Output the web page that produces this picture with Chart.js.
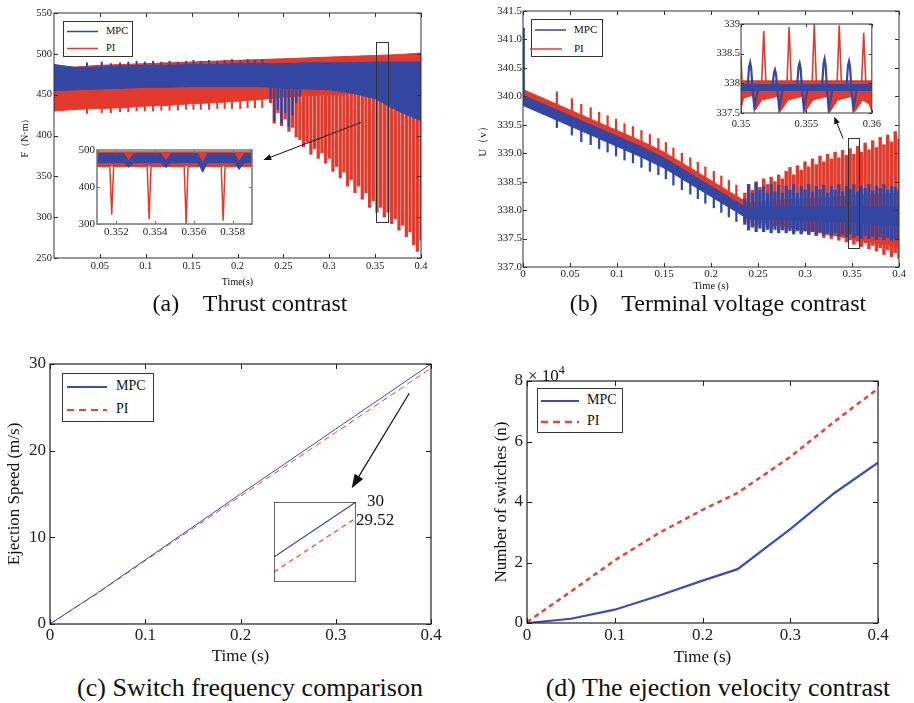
<!DOCTYPE html>
<html>
<head>
<meta charset="utf-8">
<script src="https://cdn.jsdelivr.net/npm/chart.js@4.4.1/dist/chart.umd.min.js"></script>
<style>
  body { margin: 0; background: #fff; }
  #page { position: relative; width: 914px; height: 703px; overflow: hidden;
          font-family: 'Liberation Serif', 'Times New Roman', serif; color: #111; }
  canvas, .legend, .cap, .note { position: absolute; }
  .legend { border: 1px solid #333; background: #fff; box-sizing: border-box; }
  .legend svg { position: absolute; left: 0; top: 0; overflow: visible; }
  .legend span { position: absolute; white-space: nowrap; }
  .cap { width: 440px; text-align: center; white-space: pre; }
  .note { white-space: nowrap; }
</style>
</head>
<body>
<div id="page">
  <canvas id="thrust" width="440" height="300" style="left:0;top:0"></canvas>
  <canvas id="thrustZoom" width="200" height="100" style="left:60px;top:140px"></canvas>
  <canvas id="volt" width="452" height="300" style="left:462px;top:0"></canvas>
  <canvas id="voltZoom" width="186" height="120" style="left:700px;top:14px"></canvas>
  <canvas id="speed" width="450" height="330" style="left:0;top:340px"></canvas>
  <canvas id="speedZoom" width="82" height="80" style="left:274px;top:502px"></canvas>
  <canvas id="switches" width="452" height="330" style="left:462px;top:340px"></canvas>
</div>
<script>
const SERIF = "'Liberation Serif', 'Times New Roman', serif";
Chart.defaults.font.family = SERIF;
Chart.defaults.color = '#222';

const BLUE = '#3447a3';
const RED = '#e23a2c';
const LBLUE = '#3a4db8';
const LRED = '#e8423a';

// ---- (a) thrust: envelopes of the switching ripple band
const thrustT     = [0, 0.025, 0.05, 0.075, 0.1, 0.125, 0.15, 0.175, 0.2, 0.225, 0.25, 0.275, 0.3, 0.325, 0.35, 0.375, 0.4];
const thrustPiHi  = [483, 484, 486, 487, 488, 489, 490, 491, 492, 493, 494, 495, 496, 497, 498, 499, 501];
const thrustPiLo  = [430, 432, 433, 434, 436, 437, 439, 440, 442, 444, 447, 449, 450, 451, 451, 450, 450];
const thrustMpcHi = [487, 483, 484, 485, 486, 486, 487, 487, 488, 488, 488, 489, 489, 489, 490, 490, 490];
const thrustMpcLo = [455, 456, 457, 458, 459, 459, 460, 460, 460, 460, 458, 457, 456, 452, 445, 430, 418];

// periodic disturbance pulses (same instants in (a) and (b))
const pulseT = [0.036, 0.052, 0.062, 0.072, 0.081, 0.090, 0.099, 0.108, 0.117, 0.126, 0.135,
                0.144, 0.152, 0.160, 0.169, 0.178, 0.186, 0.194, 0.203, 0.211, 0.219, 0.227];
const thrustPulseMpc = [489, 490, 488, 489, 490, 491, 490, 491, 490, 491, 490, 491, 492, 491, 492, 491, 492, 493, 492, 493, 492, 493];
const thrustPulsePi  = [427, 428, 428, 429, 429, 430, 430, 430, 431, 431, 431, 432, 432, 432, 432, 433, 433, 433, 433, 434, 434, 434];
const thrustPulseBase = [482, 445];

// late stage: deep PI spikes
const stripeT = [0.236, 0.240, 0.244, 0.248, 0.252, 0.256, 0.260, 0.264, 0.268, 0.272, 0.276, 0.280, 0.284, 0.288,
                 0.292, 0.296, 0.300, 0.304, 0.308, 0.312, 0.316, 0.320, 0.324, 0.328, 0.332, 0.336, 0.340, 0.344,
                 0.348, 0.352, 0.356, 0.360, 0.364, 0.368, 0.372, 0.376, 0.380, 0.384, 0.388, 0.392, 0.396, 0.400];
const thrustStripePi = [440, 415, 428, 412, 420, 405, 410, 398, 395, 386, 392, 377, 384, 372,
                        379, 366, 372, 356, 362, 348, 355, 338, 346, 330, 338, 322, 330, 312,
                        320, 306, 312, 300, 306, 292, 298, 284, 290, 276, 282, 266, 258, 272];
const thrustStripeBase = 452;
const thrustDipT   = [0.236, 0.240, 0.244, 0.248, 0.252, 0.256, 0.260, 0.264, 0.268];
const thrustDipMpc = [445, 418, 432, 415, 428, 411, 425, 440, 448];
const thrustDipBase = 460;
const thrustXTicks = [0.05, 0.1, 0.15, 0.2, 0.25, 0.3, 0.35, 0.4];
const thrustYTicks = [250, 300, 350, 400, 450, 500, 550];

// (a) zoom 0.351-0.359 s
const zoomAT     = [0.351, 0.3524, 0.35262, 0.3529, 0.3543, 0.35456, 0.3548, 0.3562, 0.35646, 0.3567, 0.3581, 0.35833, 0.3586, 0.359];
const zoomAMpcHi = [490, 490, 470, 490, 490, 470, 490, 490, 465, 490, 490, 468, 490, 490];
const zoomAMpcLo = [466, 466, 453, 466, 466, 452, 466, 466, 440, 466, 466, 447, 466, 466];
const zoomAPiBand = [456, 495];
const zoomAPiT = [0.351, 0.35166, 0.35176, 0.35186, 0.35359, 0.35369, 0.35379, 0.3555, 0.3556, 0.3557, 0.35741, 0.35751, 0.35761, 0.359];
const zoomAPiF = [456, 456, 325, 456, 456, 313, 456, 456, 300, 456, 456, 309, 456, 456];
const zoomAXTicks = [0.352, 0.354, 0.356, 0.358];
const zoomAYTicks = [300, 400, 500];

// ---- (b) terminal voltage
const voltT     = [0, 0.025, 0.05, 0.075, 0.1, 0.125, 0.15, 0.175, 0.2, 0.225, 0.24, 0.25, 0.275, 0.3, 0.325, 0.35, 0.375, 0.4];
const voltMpcHi = [340.02, 339.84, 339.66, 339.48, 339.30, 339.12, 338.92, 338.67, 338.42, 338.17, 338.02, 338.05, 338.05, 338.05, 338.05, 338.05, 338.05, 338.05];
const voltMpcLo = [339.84, 339.66, 339.48, 339.30, 339.12, 338.94, 338.74, 338.49, 338.24, 337.99, 337.84, 337.84, 337.83, 337.82, 337.80, 337.78, 337.75, 337.72];
const voltPiHi  = [340.12, 339.94, 339.76, 339.58, 339.40, 339.22, 339.02, 338.77, 338.52, 338.27, 338.12, 338.15, 338.18, 338.20, 338.22, 338.25, 338.28, 338.30];
const voltPiLo  = [339.89, 339.71, 339.53, 339.35, 339.17, 338.99, 338.79, 338.54, 338.29, 338.04, 337.89, 337.80, 337.72, 337.65, 337.58, 337.50, 337.42, 337.35];
const voltPulseMid = [339.71, 339.60, 339.52, 339.45, 339.39, 339.32, 339.26, 339.19, 339.13, 339.06, 338.99,
                      338.92, 338.85, 338.75, 338.66, 338.58, 338.50, 338.43, 338.34, 338.26, 338.18, 338.10];
const voltPulseTop = [340.08, 339.96, 339.86, 339.80, 339.72, 339.66, 339.60, 339.52, 339.47, 339.40, 339.33,
                      339.26, 339.19, 339.09, 339.00, 338.92, 338.84, 338.76, 338.68, 338.60, 338.52, 338.44];
const voltPulseBottom = [339.45, 339.32, 339.20, 339.15, 339.08, 339.02, 338.95, 338.88, 338.83, 338.75, 338.68,
                         338.62, 338.55, 338.44, 338.36, 338.28, 338.20, 338.12, 338.04, 337.96, 337.88, 337.80];
const voltStartT = [0.0008];
const voltStartSpike = [339.9, 341.2];
const voltStripePiHi = [338.30, 338.45, 338.35, 338.50, 338.40, 338.55, 338.45, 338.58, 338.50, 338.62, 338.55, 338.68, 338.75, 338.62,
                        338.78, 338.70, 338.85, 338.76, 338.90, 338.80, 338.95, 338.85, 338.98, 338.90, 339.02, 338.92, 339.05, 338.96,
                        339.08, 338.98, 339.12, 339.02, 339.18, 339.06, 339.22, 339.10, 339.28, 339.15, 339.32, 339.20, 339.38, 339.25];
const voltStripePiLo = [337.80, 337.75, 337.78, 337.72, 337.75, 337.70, 337.73, 337.68, 337.72, 337.66, 337.70, 337.65, 337.68, 337.62,
                        337.66, 337.60, 337.64, 337.58, 337.62, 337.55, 337.60, 337.52, 337.57, 337.50, 337.55, 337.47, 337.52, 337.44,
                        337.48, 337.40, 337.45, 337.36, 337.42, 337.32, 337.38, 337.28, 337.34, 337.22, 337.30, 337.18, 337.25, 337.15];
const voltStripeMpcHi = [338.20, 338.45, 338.30, 338.48, 338.35, 338.42, 338.30, 338.45, 338.32, 338.44, 338.30, 338.42, 338.35, 338.45,
                         338.30, 338.42, 338.35, 338.45, 338.32, 338.42, 338.36, 338.44, 338.30, 338.42, 338.35, 338.45, 338.32, 338.42,
                         338.36, 338.45, 338.32, 338.42, 338.38, 338.45, 338.34, 338.42, 338.38, 338.45, 338.35, 338.42, 338.40, 338.35];
const voltStripeMpcLo = [337.75, 337.65, 337.70, 337.62, 337.68, 337.62, 337.66, 337.60, 337.66, 337.60, 337.65, 337.60, 337.64, 337.58,
                         337.64, 337.58, 337.63, 337.57, 337.62, 337.56, 337.62, 337.56, 337.60, 337.55, 337.60, 337.54, 337.58, 337.53,
                         337.58, 337.52, 337.56, 337.50, 337.55, 337.50, 337.54, 337.48, 337.53, 337.48, 337.52, 337.47, 337.50, 337.48];
const voltXTicks = [0, 0.05, 0.1, 0.15, 0.2, 0.25, 0.3, 0.35, 0.4];
const voltYTicks = [337, 337.5, 338, 338.5, 339, 339.5, 340, 340.5, 341, 341.5];

// (b) zoom 0.35-0.36 s
const zoomBPiLoT = [0.35, 0.3502, 0.3509, 0.3511, 0.3516, 0.3528, 0.3530, 0.3536, 0.3547, 0.3549, 0.3555,
                    0.3566, 0.3568, 0.3574, 0.3585, 0.3587, 0.3593, 0.3598, 0.36];
const zoomBPiLo  = [337.55, 337.75, 337.80, 337.55, 337.72, 337.78, 337.52, 337.72, 337.78, 337.52, 337.72,
                    337.78, 337.52, 337.72, 337.78, 337.52, 337.72, 337.65, 337.52];
const zoomBPiTop = 338.05;
const zoomBPiT = [0.35, 0.35008, 0.35158, 0.35174, 0.3519, 0.35352, 0.35368, 0.35384, 0.35544, 0.3556, 0.35576,
                  0.35735, 0.35751, 0.35767, 0.35922, 0.35938, 0.35954, 0.36];
const zoomBPiU = [338.45, 338.02, 338.02, 338.88, 338.02, 338.02, 338.95, 338.02, 338.02, 339.0, 338.02,
                  338.02, 338.98, 338.02, 338.02, 338.85, 338.02, 338.02];
const zoomBMpcBand = [337.87, 337.98];
const zoomBMpcT = [0.35, 0.3505, 0.35062, 0.3507, 0.35078, 0.3509, 0.35102, 0.3513,
                   0.3524, 0.35252, 0.3526, 0.35268, 0.3528, 0.35292, 0.3532,
                   0.35428, 0.3544, 0.35448, 0.35456, 0.35468, 0.3548, 0.35508,
                   0.35619, 0.35631, 0.35639, 0.35647, 0.35659, 0.35671, 0.35699,
                   0.35806, 0.35818, 0.35826, 0.35834, 0.35846, 0.35858, 0.35886, 0.36];
const zoomBMpcU = [337.93, 337.93, 338.28, 338.35, 338.25, 337.85, 337.60, 337.90,
                   337.93, 338.18, 338.23, 338.15, 337.85, 337.58, 337.90,
                   337.93, 338.28, 338.34, 338.25, 337.85, 337.57, 337.90,
                   337.93, 338.33, 338.41, 338.30, 337.85, 337.55, 337.90,
                   337.93, 338.30, 338.37, 338.27, 337.85, 337.58, 337.90, 337.93];
const zoomBXTicks = [0.35, 0.355, 0.36];
const zoomBYTicks = [337.5, 338, 338.5, 339];

// ---- (c) ejection speed
const speedT   = [0, 0.05, 0.1, 0.2, 0.3, 0.4];
const speedMpc = [0, 3.6, 7.4, 15.0, 22.5, 30];
const speedPi  = [0, 3.55, 7.3, 14.75, 22.1, 29.52];
const speedZoomT   = [0.378, 0.4];
const speedZoomMpc = [28.35, 30];
const speedZoomPi  = [27.9, 29.52];
const speedXTicks = [0, 0.1, 0.2, 0.3, 0.4];
const speedYTicks = [0, 10, 20, 30];

// ---- (d) number of switches
const switchT   = [0, 0.05, 0.1, 0.15, 0.2, 0.24, 0.3, 0.35, 0.4];
const switchMpc = [0, 1400, 4400, 9000, 14000, 17800, 31000, 42900, 53000];
const switchPi  = [300, 10400, 20700, 29700, 37400, 43000, 54900, 66500, 77500];
const switchYTicks = [0, 20000, 40000, 60000, 80000];

// ---------- helpers
const pts = (xs, ys) => xs.map((x, i) => ({ x, y: ys[i] }));
const same = (xs, v) => xs.map(() => v);

function line(xs, ys, color, lw, extra) {
  return Object.assign({ type: 'line', data: pts(xs, ys), borderColor: color, borderWidth: lw,
    pointRadius: 0, fill: false, tension: 0 }, extra);
}
function bars(xs, lo, hi, color, w, order) {
  return { type: 'bar', data: xs.map((x, i) => ({ x, y: [lo[i], hi[i]] })), backgroundColor: color,
    borderWidth: 0, barThickness: w, grouped: false, order };
}

function drawArrow(ctx, x0, y0, x1, y1, head, half) {
  const a = Math.atan2(y1 - y0, x1 - x0), c = Math.cos(a), s = Math.sin(a);
  ctx.beginPath();
  ctx.moveTo(x0, y0);
  ctx.lineTo(x1 - c * head * 0.7, y1 - s * head * 0.7);
  ctx.stroke();
  ctx.beginPath();
  ctx.moveTo(x1, y1);
  ctx.lineTo(x1 - head * c + half * s, y1 - head * s - half * c);
  ctx.lineTo(x1 - head * c - half * s, y1 - head * s + half * c);
  ctx.closePath();
  ctx.fill();
}

// matlab style box, inward ticks, zoom boxes and arrows
function frame(o) {
  return {
    id: 'frame',
    beforeDatasetsDraw(chart) {
      if (!o.bg) return;
      const a = chart.chartArea, ctx = chart.ctx;
      ctx.save(); ctx.fillStyle = o.bg; ctx.fillRect(a.left, a.top, a.width, a.height); ctx.restore();
    },
    afterDatasetsDraw(chart) {
      const { ctx, chartArea: a, scales: { x, y } } = chart;
      ctx.save();
      if (o.tick) {
        ctx.strokeStyle = o.color; ctx.lineWidth = 1;
        ctx.beginPath();
        x.ticks.forEach(t => {
          const p = Math.round(x.getPixelForValue(t.value)) + 0.5;
          ctx.moveTo(p, a.bottom); ctx.lineTo(p, a.bottom - o.tick);
          ctx.moveTo(p, a.top); ctx.lineTo(p, a.top + o.tick);
        });
        y.ticks.forEach(t => {
          const p = Math.round(y.getPixelForValue(t.value)) + 0.5;
          ctx.moveTo(a.left, p); ctx.lineTo(a.left + o.tick, p);
          ctx.moveTo(a.right, p); ctx.lineTo(a.right - o.tick, p);
        });
        ctx.stroke();
      }
      ctx.strokeStyle = o.color; ctx.lineWidth = o.width;
      ctx.strokeRect(a.left, a.top, a.width, a.height);
      ctx.strokeStyle = '#333'; ctx.lineWidth = 1;
      (o.boxes || []).forEach(b => {
        const l = x.getPixelForValue(b.x0), r = x.getPixelForValue(b.x1);
        const t = y.getPixelForValue(b.y1), btm = y.getPixelForValue(b.y0);
        ctx.strokeRect(Math.round(l) + 0.5, Math.round(t) + 0.5, Math.round(r - l), Math.round(btm - t));
      });
      ctx.strokeStyle = '#111'; ctx.fillStyle = '#111';
      (o.arrows || []).forEach(r => {
        ctx.lineWidth = r.lw || 1;
        drawArrow(ctx, x.getPixelForValue(r.x0), y.getPixelForValue(r.y0),
          x.getPixelForValue(r.x1), y.getPixelForValue(r.y1), r.head, r.half);
      });
      ctx.restore();
    }
  };
}

function axis(c) {
  return {
    type: 'linear', min: c.min, max: c.max, offset: false, display: c.display !== false,
    grid: { display: false, drawTicks: false }, border: { display: false },
    ticks: { font: { size: c.font }, padding: c.pad, maxRotation: 0, autoSkip: false,
             callback: c.fmt || (v => String(v)) },
    title: c.title ? { display: true, text: c.title, color: '#111', font: { size: c.titleSize }, padding: c.titlePad }
                   : { display: false },
    afterBuildTicks: s => { s.ticks = (c.ticks || []).map(v => ({ value: v })); },
    afterFit: s => { if (c.size != null) { if (s.isHorizontal()) s.height = c.size; else s.width = c.size; } },
  };
}

function makeChart(id, datasets, x, y, pad, fr) {
  return new Chart(document.getElementById(id), {
    type: 'line',
    data: { datasets },
    options: {
      responsive: false, animation: false, events: [],
      layout: { padding: { left: 0, bottom: 0, top: pad[0], right: pad[1] } },
      plugins: { legend: { display: false }, tooltip: { enabled: false } },
      scales: { x: axis(x), y: axis(y) },
    },
    plugins: [frame(fr)],
  });
}

// ---------- (a)
makeChart('thrust', [
  line(thrustT, thrustPiHi, RED, 1, { order: 6 }),
  line(thrustT, thrustPiLo, RED, 1, { order: 6, fill: '-1', backgroundColor: RED }),
  bars(stripeT, thrustStripePi, same(stripeT, thrustStripeBase), RED, 2.6, 5),
  bars(pulseT, thrustPulsePi, same(pulseT, thrustPulseBase[1]), RED, 1.4, 5),
  line(thrustT, thrustMpcHi, BLUE, 1, { order: 4 }),
  line(thrustT, thrustMpcLo, BLUE, 1, { order: 4, fill: '-1', backgroundColor: BLUE }),
  bars(pulseT, same(pulseT, thrustPulseBase[0]), thrustPulseMpc, BLUE, 1.4, 3),
  bars(thrustDipT, thrustDipMpc, same(thrustDipT, thrustDipBase), BLUE, 1.8, 3),
],
  { min: 0, max: 0.4, ticks: thrustXTicks, font: 10.5, pad: 2, size: 42,
    title: 'Time(s)', titleSize: 10, titlePad: { top: 0, bottom: 12 } },
  { min: 250, max: 550, ticks: thrustYTicks, font: 10.5, pad: 2, size: 54,
    title: 'F（N·m）', titleSize: 10, titlePad: { top: 19, bottom: 0 } },
  [13, 19],
  { color: '#333', width: 1, tick: 4,
    boxes: [{ x0: 0.351, x1: 0.364, y0: 294, y1: 515 }],
    arrows: [{ x0: 0.3346, y0: 416, x1: 0.2281, y1: 370, head: 8, half: 3 }] });

makeChart('thrustZoom', [
  line([0.351, 0.359], [zoomAPiBand[1], zoomAPiBand[1]], RED, 1, { order: 4, fill: { value: zoomAPiBand[0] }, backgroundColor: RED }),
  line(zoomAPiT, zoomAPiF, RED, 1.5, { order: 3 }),
  line(zoomAT, zoomAMpcHi, BLUE, 1, { order: 2 }),
  line(zoomAT, zoomAMpcLo, BLUE, 1, { order: 2, fill: '-1', backgroundColor: BLUE }),
],
  { min: 0.351, max: 0.359, ticks: zoomAXTicks, font: 11, pad: 2, size: 16 },
  { min: 300, max: 500, ticks: zoomAYTicks, font: 11, pad: 2, size: 37 },
  [10, 8],
  { color: '#777', width: 1.5, tick: 3 });

// ---------- (b)
makeChart('volt', [
  line(voltT, voltPiHi, RED, 1, { order: 7 }),
  line(voltT, voltPiLo, RED, 1, { order: 7, fill: '-1', backgroundColor: RED }),
  bars(stripeT, voltStripePiLo, voltStripePiHi, RED, 2.8, 6),
  bars(pulseT, voltPulseMid, voltPulseTop, RED, 1.6, 5),
  line(voltT, voltMpcHi, BLUE, 1, { order: 4 }),
  line(voltT, voltMpcLo, BLUE, 1, { order: 4, fill: '-1', backgroundColor: BLUE }),
  bars(stripeT, voltStripeMpcLo, voltStripeMpcHi, BLUE, 2.6, 3),
  bars(pulseT, voltPulseBottom, voltPulseMid, BLUE, 1.6, 2),
  bars(voltStartT, [voltStartSpike[0]], [voltStartSpike[1]], BLUE, 1.6, 1),
],
  { min: 0, max: 0.4, ticks: voltXTicks, font: 11, pad: 1, size: 33,
    title: 'Time (s)', titleSize: 10.5, titlePad: { top: 0, bottom: 7 } },
  { min: 337, max: 341.5, ticks: voltYTicks, font: 11, pad: 1, size: 61, fmt: v => v.toFixed(1),
    title: 'U（v）', titleSize: 11, titlePad: { top: 15, bottom: 0 } },
  [11, 15],
  { color: '#333', width: 1, tick: 4,
    boxes: [{ x0: 0.3458, x1: 0.3575, y0: 337.33, y1: 339.26 }],
    arrows: [{ x0: 0.3405, y0: 339.26, x1: 0.3312, y1: 339.64, head: 7, half: 3 }] });

makeChart('voltZoom', [
  line(zoomBPiLoT, zoomBPiLo, RED, 1, { order: 5, fill: { value: zoomBPiTop }, backgroundColor: RED }),
  line(zoomBPiT, zoomBPiU, RED, 1.6, { order: 4 }),
  line([0.35, 0.36], [zoomBMpcBand[1], zoomBMpcBand[1]], BLUE, 1, { order: 3, fill: { value: zoomBMpcBand[0] }, backgroundColor: BLUE }),
  line(zoomBMpcT, zoomBMpcU, BLUE, 2.2, { order: 2 }),
],
  { min: 0.35, max: 0.36, ticks: zoomBXTicks, font: 10.5, pad: 5, size: 21 },
  { min: 337.5, max: 339, ticks: zoomBYTicks, font: 10.5, pad: 1, size: 41 },
  [10, 10],
  { color: '#333', width: 1, tick: 3, bg: '#fff' });

// ---------- (c)
makeChart('speed', [
  line(speedT, speedMpc, LBLUE, 1, { order: 1 }),
  line(speedT, speedPi, LRED, 1, { order: 2, borderDash: [6, 4] }),
],
  { min: 0, max: 0.4, ticks: speedXTicks, font: 17, pad: 1, size: 46,
    title: 'Time (s)', titleSize: 17, titlePad: { top: 0, bottom: 3 } },
  { min: 0, max: 30, ticks: speedYTicks, font: 17, pad: 4, size: 50,
    title: 'Ejection Speed (m/s)', titleSize: 17, titlePad: { top: 4, bottom: 0 } },
  [24, 19],
  { color: '#222', width: 1.2, tick: 5,
    arrows: [{ x0: 0.3772, y0: 26.62, x1: 0.3167, y1: 15.66, head: 14, half: 5, lw: 1.2 }] });

makeChart('speedZoom', [
  line(speedZoomT, speedZoomMpc, LBLUE, 1.2, { order: 1 }),
  line(speedZoomT, speedZoomPi, LRED, 1.2, { order: 2, borderDash: [5, 4] }),
],
  { min: 0.378, max: 0.4, display: false },
  { min: 27.6, max: 30, display: false },
  [0, 0],
  { color: '#333', width: 1.5, tick: 0, bg: '#fff' });

// ---------- (d)
makeChart('switches', [
  line(switchT, switchMpc, LBLUE, 2.2, { order: 1 }),
  line(switchT, switchPi, LRED, 2.5, { order: 2, borderDash: [5, 4] }),
],
  { min: 0, max: 0.4, ticks: speedXTicks, font: 17, pad: 2, size: 47,
    title: 'Time (s)', titleSize: 17, titlePad: { top: 0, bottom: 2 } },
  { min: 0, max: 80000, ticks: switchYTicks, font: 17, pad: 4, size: 65, fmt: v => String(v / 10000),
    title: 'Number of switches (n)', titleSize: 17, titlePad: { top: 29, bottom: 0 } },
  [41, 36],
  { color: '#222', width: 1.2, tick: 5 });

// ---------- legends and texts
const page = document.getElementById('page');
function legend(box, fs, rows) {
  const d = document.createElement('div');
  d.className = 'legend';
  Object.assign(d.style, { left: box[0] + 'px', top: box[1] + 'px', width: box[2] + 'px', height: box[3] + 'px', fontSize: fs + 'px' });
  let svg = `<svg width="${box[2]}" height="${box[3]}">`;
  rows.forEach(r => {
    svg += `<line x1="${r.x0}" y1="${r.y}" x2="${r.x1}" y2="${r.y}" stroke="${r.color}" stroke-width="${r.lw}"` +
           (r.dash ? ` stroke-dasharray="${r.dash}"` : '') + '/>';
  });
  d.innerHTML = svg + '</svg>' + rows.map(r =>
    `<span style="left:${r.tx}px;top:${r.y - fs * 0.62}px;line-height:${fs * 1.2}px">${r.label}</span>`).join('');
  page.appendChild(d);
}
legend([63, 21, 70, 36], 10.5, [
  { label: 'MPC', x0: 3, x1: 34, y: 9.5, color: BLUE, lw: 1.5, tx: 42 },
  { label: 'PI', x0: 3, x1: 34, y: 26.5, color: RED, lw: 1.5, tx: 42 }]);
legend([531, 19, 72, 38], 11, [
  { label: 'MPC', x0: 3, x1: 34, y: 10, color: BLUE, lw: 1.5, tx: 42 },
  { label: 'PI', x0: -2, x1: 30, y: 29, color: RED, lw: 1.5, tx: 42 }]);
legend([62, 373, 92, 49], 14, [
  { label: 'MPC', x0: 4, x1: 44, y: 13, color: LBLUE, lw: 2, tx: 53 },
  { label: 'PI', x0: 4, x1: 44, y: 36, color: LRED, lw: 2, dash: '7 5', tx: 53 }]);
legend([537, 388, 86, 45], 14, [
  { label: 'MPC', x0: 3, x1: 41, y: 12, color: LBLUE, lw: 2, tx: 49 },
  { label: 'PI', x0: 3, x1: 41, y: 33, color: LRED, lw: 2.5, dash: '7 5', tx: 49 }]);

function text(html, left, top, fs, cls) {
  const d = document.createElement('div');
  d.className = cls || 'note';
  d.style.left = left + 'px'; d.style.top = top + 'px';
  d.style.fontSize = fs + 'px'; d.style.lineHeight = fs + 'px';
  d.innerHTML = html;
  page.appendChild(d);
}
text('(a)    Thrust contrast', 30, 291, 24, 'cap');
text('(b)    Terminal voltage contrast', 498, 291, 24, 'cap');
text('(c) Switch frequency comparison', 30, 675, 26, 'cap');
text('(d) The ejection velocity contrast', 498, 675, 26, 'cap');
text('× 10<sup style="font-size:12px;vertical-align:7px">4</sup>', 528, 362, 17);
text('30', 367, 492, 17);
text('29.52', 356, 511, 17);
</script>
</body>
</html>
